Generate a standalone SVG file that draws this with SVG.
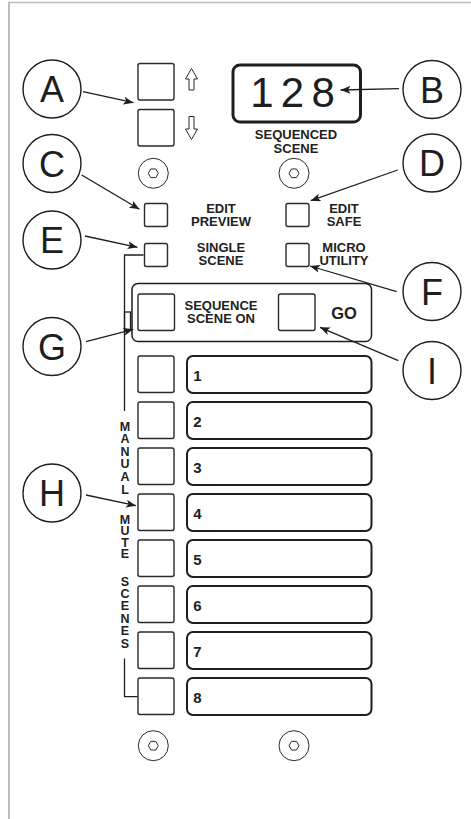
<svg xmlns="http://www.w3.org/2000/svg" width="471" height="819" viewBox="0 0 471 819">
<style>
.frame{stroke:#bdbdbd;fill:none}
.btn{fill:#fff;stroke:#2a2a2a;stroke-width:1.4}
.lbox{fill:#fff;stroke:#1e1e1e;stroke-width:2}
.ln{fill:none;stroke:#1e1e1e;stroke-width:1.3}
.thin{fill:none;stroke:#2a2a2a;stroke-width:1}
.call{fill:#fff;stroke:#1e1e1e;stroke-width:1.4}
.callt{font-family:"Liberation Sans",Arial,sans-serif;font-size:36px;fill:#1e1e1e;text-anchor:middle}
.lab{font-family:"Liberation Sans",Arial,sans-serif;font-weight:bold;font-size:13px;fill:#222;text-anchor:middle}
.go{font-size:16.5px}
.num{font-family:"Liberation Sans",Arial,sans-serif;font-weight:bold;font-size:15px;fill:#222}
.vt{font-family:"Liberation Sans",Arial,sans-serif;font-weight:bold;font-size:12.5px;fill:#222;writing-mode:vertical-rl;text-orientation:upright}
.arr{fill:none;stroke:#1e1e1e;stroke-width:1.3;marker-end:url(#ah)}
</style>
<defs>
<marker id="ah" viewBox="0 0 10 8" refX="10" refY="4" markerWidth="10" markerHeight="8" orient="auto" markerUnits="userSpaceOnUse">
<path d="M0,0 L10,4 L0,8 L2.5,4 z" fill="#1e1e1e"/>
</marker>
<g id="screw">
<circle r="15" class="thin"/>
<polygon points="5,0 2.5,4.33 -2.5,4.33 -5,0 -2.5,-4.33 2.5,-4.33" class="thin"/>
</g>
</defs>
<rect width="471" height="819" fill="#fff"/>
<g id="frame">
<line x1="9" y1="2" x2="9" y2="819" class="frame" stroke-width="2"/>
<line x1="8" y1="2.5" x2="471" y2="2.5" class="frame" stroke-width="1.6"/>
</g>

<g id="up-down-buttons">
<rect x="138" y="63.5" width="36" height="36.5" rx="2" class="btn"/>
<rect x="138" y="109.5" width="36" height="36.5" rx="2" class="btn"/>
<path d="M191.5,68.5 L197.5,79 L194,79 L194,90 L189,90 L189,79 L185.5,79 Z" class="thin"/>
<path d="M191.5,139.5 L197.5,129 L194,129 L194,116.5 L189,116.5 L189,129 L185.5,129 Z" class="thin"/>
</g>

<g id="display">
<rect x="233" y="65" width="127.5" height="57" rx="7" fill="#fff" stroke="#1e1e1e" stroke-width="3"/>
<text x="262 292.5 323.3" y="107" font-family="'Liberation Sans',Arial,sans-serif" font-size="42" fill="#1e1e1e" text-anchor="middle">128</text>
<text class="lab" x="296" y="139">SEQUENCED</text>
<text class="lab" x="296" y="152.7">SCENE</text>
</g>

<g id="screws">
<use href="#screw" x="153.3" y="173.3"/>
<use href="#screw" x="294" y="173.3"/>
<use href="#screw" x="153.3" y="745.7"/>
<use href="#screw" x="294" y="745.7"/>
</g>

<g id="edit-preview">
<rect x="144.5" y="203.5" width="23" height="23" rx="2" class="btn"/>
<text class="lab" x="221" y="213.3">EDIT</text>
<text class="lab" x="221" y="226">PREVIEW</text>
</g>
<g id="edit-safe">
<rect x="286" y="203.5" width="23" height="23" rx="2" class="btn"/>
<text class="lab" x="344" y="213.3">EDIT</text>
<text class="lab" x="344" y="226">SAFE</text>
</g>
<g id="single-scene">
<rect x="144.5" y="243.5" width="23" height="23" rx="2" class="btn"/>
<text class="lab" x="221" y="252.3">SINGLE</text>
<text class="lab" x="221" y="265">SCENE</text>
</g>
<g id="micro-utility">
<rect x="286" y="243.5" width="23" height="23" rx="2" class="btn"/>
<text class="lab" x="344" y="252.3">MICRO</text>
<text class="lab" x="344" y="265">UTILITY</text>
</g>

<g id="sequence-group">
<rect x="132" y="283.5" width="239.5" height="58" rx="6" fill="#fff" stroke="#1e1e1e" stroke-width="1.5"/>
<rect x="138" y="294" width="36.5" height="36.5" rx="2" class="btn"/>
<text class="lab" x="221" y="310">SEQUENCE</text>
<text class="lab" x="221" y="322.7">SCENE ON</text>
<rect x="278.5" y="294" width="36.5" height="36.5" rx="2" class="btn"/>
<text class="lab go" x="344" y="318.5">GO</text>
</g>

<g id="scene-rows">
<g id="row1"><rect x="138" y="356" width="36" height="36.5" rx="2" class="btn"/><rect x="187" y="356" width="184.5" height="37" rx="6" class="lbox"/><text class="num" x="193.3" y="381">1</text></g>
<g id="row2"><rect x="138" y="402" width="36" height="36.5" rx="2" class="btn"/><rect x="187" y="402" width="184.5" height="37" rx="6" class="lbox"/><text class="num" x="193.3" y="427">2</text></g>
<g id="row3"><rect x="138" y="448" width="36" height="36.5" rx="2" class="btn"/><rect x="187" y="448" width="184.5" height="37" rx="6" class="lbox"/><text class="num" x="193.3" y="473">3</text></g>
<g id="row4"><rect x="138" y="494" width="36" height="36.5" rx="2" class="btn"/><rect x="187" y="494" width="184.5" height="37" rx="6" class="lbox"/><text class="num" x="193.3" y="519">4</text></g>
<g id="row5"><rect x="138" y="540" width="36" height="36.5" rx="2" class="btn"/><rect x="187" y="540" width="184.5" height="37" rx="6" class="lbox"/><text class="num" x="193.3" y="565">5</text></g>
<g id="row6"><rect x="138" y="586" width="36" height="36.5" rx="2" class="btn"/><rect x="187" y="586" width="184.5" height="37" rx="6" class="lbox"/><text class="num" x="193.3" y="611">6</text></g>
<g id="row7"><rect x="138" y="632" width="36" height="36.5" rx="2" class="btn"/><rect x="187" y="632" width="184.5" height="37" rx="6" class="lbox"/><text class="num" x="193.3" y="657">7</text></g>
<g id="row8"><rect x="138" y="678" width="36" height="36.5" rx="2" class="btn"/><rect x="187" y="678" width="184.5" height="37" rx="6" class="lbox"/><text class="num" x="193.3" y="703">8</text></g>
</g>

<g id="manual-mute-scenes">
<path d="M143.5,255 H124.5 V411" class="ln"/>
<rect x="124.5" y="312" width="6" height="18" class="ln"/>
<path d="M124.5,658.5 V696.7 H137.5" class="ln"/>
<text class="vt" x="125" y="419.7" letter-spacing="-1.4">MANUAL</text>
<text class="vt" x="125" y="512.7" letter-spacing="-2.5">MUTE</text>
<text class="vt" x="125" y="574.7" letter-spacing="-1.6">SCENES</text>
</g>

<g id="callout-A"><circle cx="52" cy="89" r="29" class="call"/><text class="callt" x="52" y="102">A</text></g>
<g id="callout-B"><circle cx="432" cy="89.5" r="29" class="call"/><text class="callt" x="432" y="102.5">B</text></g>
<g id="callout-C"><circle cx="52" cy="163.5" r="29" class="call"/><text class="callt" x="52" y="176.5">C</text></g>
<g id="callout-D"><circle cx="432" cy="163" r="29" class="call"/><text class="callt" x="432" y="176">D</text></g>
<g id="callout-E"><circle cx="52" cy="240" r="29" class="call"/><text class="callt" x="52" y="253">E</text></g>
<g id="callout-F"><circle cx="432" cy="291.5" r="29" class="call"/><text class="callt" x="432" y="304.5">F</text></g>
<g id="callout-G"><circle cx="52" cy="346.5" r="29" class="call"/><text class="callt" x="52" y="359.5">G</text></g>
<g id="callout-H"><circle cx="52" cy="493" r="29" class="call"/><text class="callt" x="52" y="506">H</text></g>
<g id="callout-I"><circle cx="432" cy="370.5" r="29" class="call"/><text class="callt" x="432" y="383.5">I</text></g>

<g id="connectors">
<line x1="83" y1="91.7" x2="133.5" y2="102.7" class="arr"/>
<line x1="399" y1="88.7" x2="340.5" y2="90" class="arr"/>
<line x1="81.7" y1="175" x2="139.5" y2="209.3" class="arr"/>
<line x1="397.7" y1="170" x2="310.7" y2="200.7" class="arr"/>
<line x1="85" y1="236" x2="137.5" y2="247.3" class="arr"/>
<line x1="396.7" y1="291.7" x2="310" y2="266" class="arr"/>
<line x1="86" y1="341.7" x2="133.3" y2="329.3" class="arr"/>
<line x1="398.3" y1="360.7" x2="320" y2="327.3" class="arr"/>
<line x1="86" y1="495" x2="136" y2="505.7" class="arr"/>
</g>
</svg>
